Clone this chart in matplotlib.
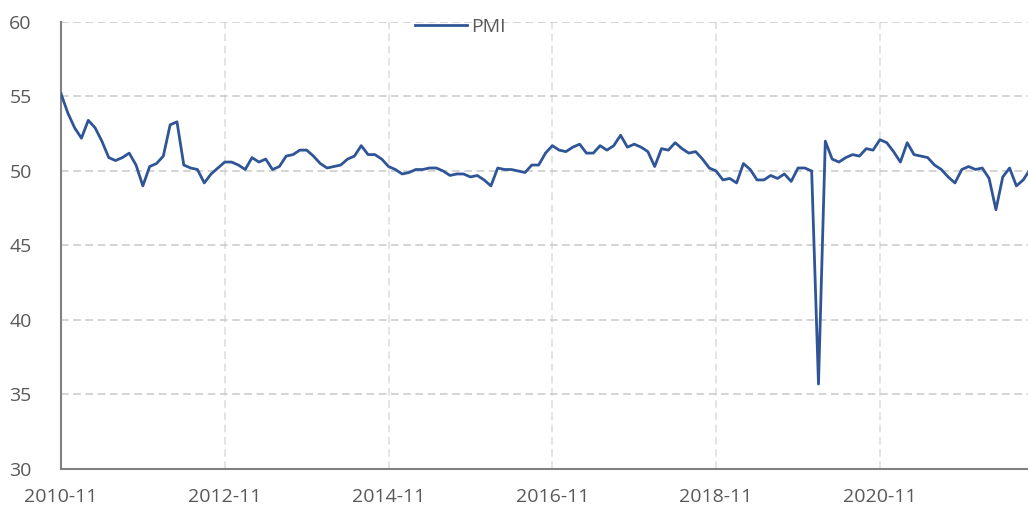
import matplotlib
matplotlib.use("Agg")
import matplotlib.pyplot as plt
import pandas as pd

# monthly PMI, 2010-11 .. 2022-09
pmi = [55.2, 53.9, 52.9, 52.2, 53.4, 52.9, 52.0, 50.9, 50.7, 50.9, 51.2, 50.4,
       49.0, 50.3, 50.5, 51.0, 53.1, 53.3, 50.4, 50.2, 50.1, 49.2, 49.8, 50.2,
       50.6, 50.6, 50.4, 50.1, 50.9, 50.6, 50.8, 50.1, 50.3, 51.0, 51.1, 51.4,
       51.4, 51.0, 50.5, 50.2, 50.3, 50.4, 50.8, 51.0, 51.7, 51.1, 51.1, 50.8,
       50.3, 50.1, 49.8, 49.9, 50.1, 50.1, 50.2, 50.2, 50.0, 49.7, 49.8, 49.8,
       49.6, 49.7, 49.4, 49.0, 50.2, 50.1, 50.1, 50.0, 49.9, 50.4, 50.4, 51.2,
       51.7, 51.4, 51.3, 51.6, 51.8, 51.2, 51.2, 51.7, 51.4, 51.7, 52.4, 51.6,
       51.8, 51.6, 51.3, 50.3, 51.5, 51.4, 51.9, 51.5, 51.2, 51.3, 50.8, 50.2,
       50.0, 49.4, 49.5, 49.2, 50.5, 50.1, 49.4, 49.4, 49.7, 49.5, 49.8, 49.3,
       50.2, 50.2, 50.0, 35.7, 52.0, 50.8, 50.6, 50.9, 51.1, 51.0, 51.5, 51.4,
       52.1, 51.9, 51.3, 50.6, 51.9, 51.1, 51.0, 50.9, 50.4, 50.1, 49.6, 49.2,
       50.1, 50.3, 50.1, 50.2, 49.5, 47.4, 49.6, 50.2, 49.0, 49.4, 50.1]
months = pd.period_range("2010-11", periods=len(pmi), freq="M").strftime("%Y-%m")
yticks = [30, 35, 40, 45, 50, 55, 60]

plt.rcParams['font.family'] = ['Open Sans', 'DejaVu Sans']
fig = plt.figure(figsize=(10.28, 5.09), dpi=100)
ax = fig.add_axes([0.0593, 0.0786, 0.9407, 0.8782])

x = list(range(len(pmi)))
ax.plot(x, pmi, color="#2F5597", lw=2.0, label="PMI", zorder=3)

tick_idx = x[::24]
ax.set_xticks(tick_idx)
ax.set_xticklabels([months[i] for i in tick_idx])
ax.set_yticks(yticks)
ax.set_xlim(0, 141.7)
ax.set_ylim(30, 60)

ax.grid(axis="y", color="#C9C9C9", ls=(0, (5, 3)), lw=1.1)
ax.grid(axis="x", color="#DCDCDC", ls=(0, (5, 3)), lw=1.1)
ax.tick_params(length=0, labelsize=14, colors="#595959")
ax.tick_params(axis="x", pad=14)
ax.tick_params(axis="y", pad=21)
for s in ["top", "right"]:
    ax.spines[s].set_visible(False)
for s in ["left", "bottom"]:
    ax.spines[s].set_color("#808080")
    ax.spines[s].set_linewidth(1.5)

leg = ax.legend(loc="center", bbox_to_anchor=(0.413, 0.989), frameon=False,
                fontsize=14, handlelength=2.7, handletextpad=0.2, borderpad=0)
for t in leg.get_texts():
    t.set_color("#595959")

fig.savefig("out.png", dpi=100)
